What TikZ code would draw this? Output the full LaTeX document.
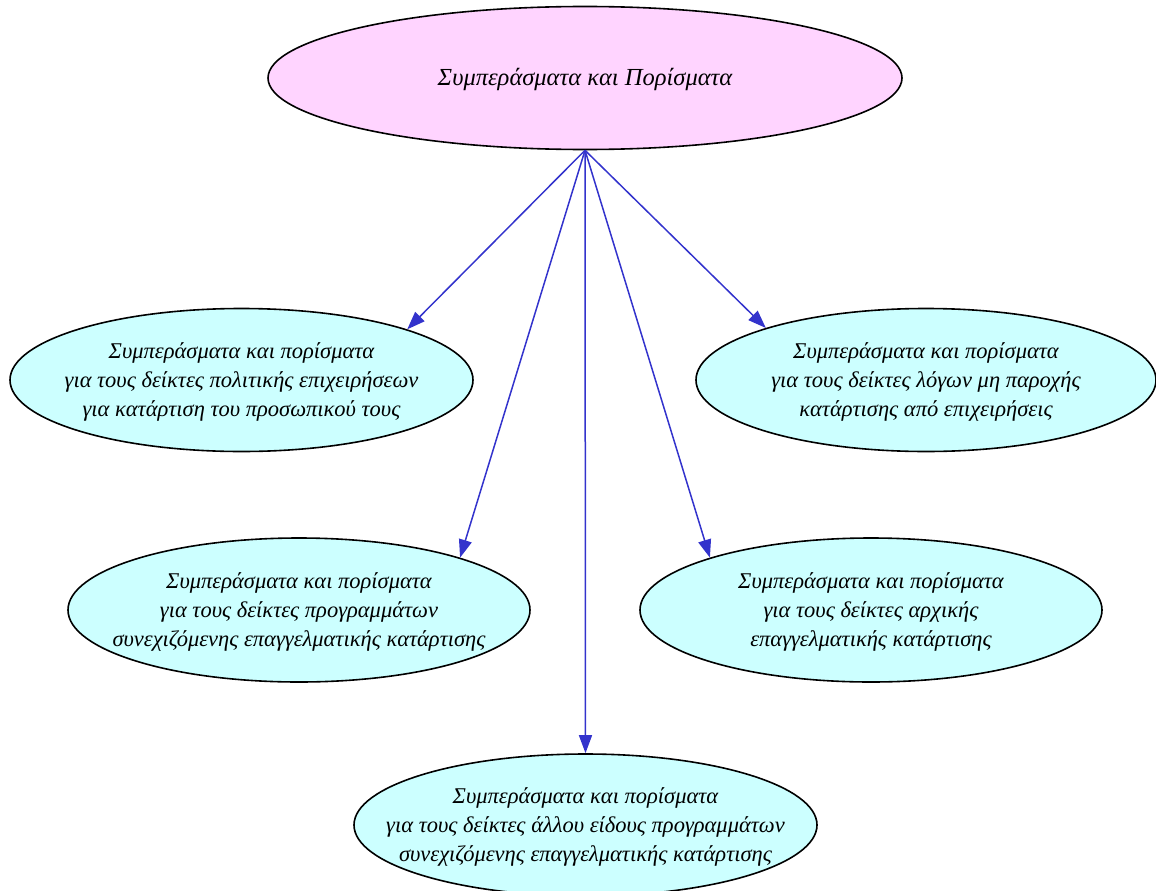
\documentclass[tikz,border=0pt]{standalone}
\usepackage{fontspec}
\setmainfont{Liberation Serif}
\usetikzlibrary{shapes.geometric,arrows.meta}
\definecolor{topfill}{HTML}{FFD4FF}
\definecolor{subfill}{HTML}{CCFFFF}
\definecolor{edgeblue}{HTML}{3333CC}
\tikzset{
  ell/.style={ellipse, draw=black, line width=1.6pt, inner sep=0pt, fill=subfill},
  txt/.style={align=center, inner sep=0pt, font=\fontsize{22.5}{29}\selectfont\itshape},
  conn/.style={edgeblue, line width=1.5pt, -{Triangle[length=18pt,width=13pt]}}
}
\begin{document}
\begin{tikzpicture}[x=1pt,y=-1pt]
\useasboundingbox (0,0) rectangle (1156,891);
\clip (0,0) rectangle (1156,891);
\node[ell, fill=topfill, minimum width=634pt, minimum height=143pt] (top) at (585,78) {};
\node[txt, font=\fontsize{24.5}{29}\selectfont\itshape] (topT) at (585,79) {Συμπεράσματα και Πορίσματα};
\node[ell, minimum width=463pt, minimum height=143pt] (lm) at (241.5,380) {};
\node[txt] (lmT) at (241.5,382) {Συμπεράσματα και πορίσματα\\για τους δείκτες πολιτικής επιχειρήσεων\\για κατάρτιση του προσωπικού τους};
\node[ell, minimum width=460pt, minimum height=143pt] (rm) at (926,380) {};
\node[txt] (rmT) at (926,382) {Συμπεράσματα και πορίσματα\\για τους δείκτες λόγων μη παροχής\\κατάρτισης από επιχειρήσεις};
\node[ell, minimum width=462pt, minimum height=144pt] (ll) at (299,610) {};
\node[txt] (llT) at (299,612) {Συμπεράσματα και πορίσματα\\για τους δείκτες προγραμμάτων\\συνεχιζόμενης επαγγελματικής κατάρτισης};
\node[ell, minimum width=462pt, minimum height=144pt] (lr) at (871,610) {};
\node[txt] (lrT) at (871,612) {Συμπεράσματα και πορίσματα\\για τους δείκτες αρχικής\\επαγγελματικής κατάρτισης};
\node[ell, minimum width=463pt, minimum height=142pt] (bot) at (585.5,825) {};
\node[txt] (botT) at (585.5,827) {Συμπεράσματα και πορίσματα\\για τους δείκτες άλλου είδους προγραμμάτων\\συνεχιζόμενης επαγγελματικής κατάρτισης};
\draw[conn] (top.south) -- (lm.17.6);
\draw[conn] (top.south) -- (rm.162.3);
\draw[conn] (top.south) -- (ll.18);
\draw[conn] (top.south) -- (lr.162);
\draw[conn] (top.south) -- (bot.north);
\end{tikzpicture}
\end{document}
